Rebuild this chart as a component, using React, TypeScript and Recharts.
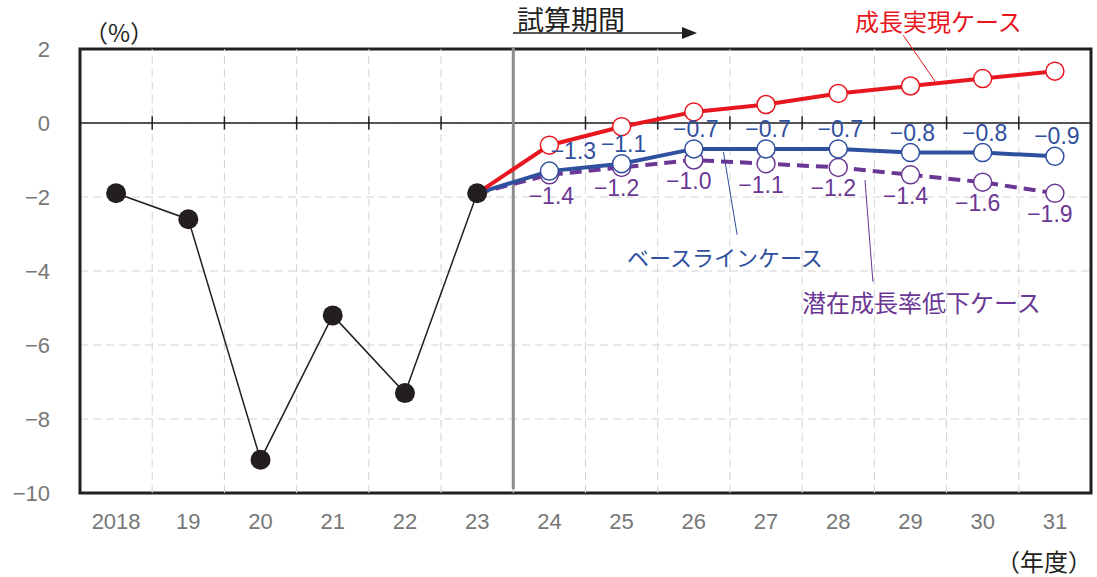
import React from "react";
import {
  ComposedChart,
  Line,
  XAxis,
  YAxis,
  CartesianGrid,
  ReferenceLine,
  ReferenceArea,
} from "recharts";

const years = ["2018", "19", "20", "21", "22", "23", "24", "25", "26", "27", "28", "29", "30", "31"];
const actual = [-1.9, -2.6, -9.1, -5.2, -7.3, -1.9, null, null, null, null, null, null, null, null];
const growthCase = [null, null, null, null, null, -1.9, -0.6, -0.1, 0.3, 0.5, 0.8, 1.0, 1.2, 1.4];
const baselineCase = [null, null, null, null, null, -1.9, -1.3, -1.1, -0.7, -0.7, -0.7, -0.8, -0.8, -0.9];
const lowGrowthCase = [null, null, null, null, null, -1.9, -1.4, -1.2, -1.0, -1.1, -1.2, -1.4, -1.6, -1.9];
const yTicks = [-10, -8, -6, -4, -2, 0, 2];

const data = years.map((year, i) => ({
  i,
  year,
  actual: actual[i],
  growth: growthCase[i],
  base: baselineCase[i],
  low: lowGrowthCase[i],
}));

// category boundaries (between years) for the dashed verticals and zero-line ticks
const boundaries = years.slice(1).map((_, k) => k + 0.5);

const NUM_FONT = "'Liberation Sans', Arial, 'Noto Sans CJK JP', sans-serif";
const JP_FONT = "'Noto Sans CJK JP', 'Noto Sans', sans-serif";

const RED = "#e8171f";
const BLUE = "#2f4f9f";
const PURPLE = "#6b3795";

const fmt = (v: number) => (v < 0 ? "\u2212" + Math.abs(v).toFixed(1) : v.toFixed(1));

const openDot = (color: string) => (p: any) => {
  if (p.value == null || p.index <= 5) return <g key={`e${p.index}`} />;
  return (
    <circle key={`d${p.index}`} cx={p.cx} cy={p.cy} r={9} fill="#fff" stroke={color} strokeWidth={1.5} />
  );
};

const blackDot = (p: any) => {
  if (p.value == null) return <g key={`e${p.index}`} />;
  return <circle key={`b${p.index}`} cx={p.cx} cy={p.cy} r={10} fill="#231f20" />;
};

const label = (color: string, dx: number, dy: number, firstDx: number) => (p: any) => {
  if (p.value == null || p.index <= 5) return null;
  const shift = p.index === 6 ? firstDx : dx;
  return (
    <text
      key={`l${p.index}`}
      x={p.x + shift}
      y={p.y + dy}
      textAnchor="middle"
      dominantBaseline="central"
      fill={color}
      fontSize={23}
      fontFamily={NUM_FONT}
    >
      {fmt(p.value)}
    </text>
  );
};

export default function App() {
  return (
    <div style={{ position: "absolute", left: 0, top: 0, width: 1097, height: 577, background: "#fff" }}>
      <ComposedChart
        width={1097}
        height={577}
        data={data}
        margin={{ top: 49, right: 6, left: 20, bottom: 44 }}
      >
        <CartesianGrid vertical={false} stroke="#d2d2d2" strokeDasharray="8 5" />
        {boundaries.map((b) => (
          <ReferenceLine key={`g${b}`} x={b} stroke="#d2d2d2" strokeDasharray="8 5" />
        ))}
        <XAxis
          dataKey="i"
          type="number"
          domain={[-0.5, 13.5]}
          ticks={years.map((_, i) => i)}
          interval={0}
          tickFormatter={(v: number) => years[v]}
          axisLine={false}
          tickLine={false}
          tickSize={0}
          tickMargin={20}
          height={40}
          tick={{ fill: "#777", fontSize: 22, fontFamily: NUM_FONT }}
        />
        <YAxis
          domain={[-10, 2]}
          ticks={yTicks}
          interval={0}
          tickFormatter={(v: number) => (v < 0 ? "\u2212" + Math.abs(v) : String(v))}
          axisLine={false}
          tickLine={false}
          tickSize={0}
          tickMargin={30}
          width={60}
          tick={{ fill: "#777", fontSize: 22, fontFamily: NUM_FONT }}
        />
        <ReferenceLine y={0} stroke="#231f20" strokeWidth={1.5} />
        {boundaries.map((b) => (
          <ReferenceLine
            key={`t${b}`}
            segment={[
              { x: b, y: -0.18 },
              { x: b, y: 0.18 },
            ]}
            stroke="#231f20"
            strokeWidth={1.5}
          />
        ))}
        <ReferenceLine
          segment={[
            { x: 5.5, y: 2.05 },
            { x: 5.5, y: -9.9 },
          ]}
          stroke="#8c8c8c"
          strokeWidth={3}
          ifOverflow="visible"
        />
        {/* leader lines for the case captions */}
        <ReferenceLine
          segment={[
            { x: 10.9, y: 2.37 },
            { x: 11.34, y: 1.13 },
          ]}
          stroke={RED}
          strokeWidth={1}
          ifOverflow="visible"
        />
        <ReferenceLine
          segment={[
            { x: 8.41, y: -0.78 },
            { x: 8.6, y: -3.02 },
          ]}
          stroke={BLUE}
          strokeWidth={1}
          ifOverflow="visible"
        />
        <ReferenceLine
          segment={[
            { x: 10.37, y: -1.54 },
            { x: 10.48, y: -4.29 },
          ]}
          stroke={PURPLE}
          strokeWidth={1}
          ifOverflow="visible"
        />
        <ReferenceArea
          x1={-0.5}
          x2={13.5}
          y1={-10}
          y2={2}
          fill="none"
          stroke="#231f20"
          strokeWidth={3}
          ifOverflow="visible"
        />
        <Line
          dataKey="low"
          stroke={PURPLE}
          strokeWidth={4}
          strokeDasharray="12 7"
          dot={openDot(PURPLE)}
          label={label(PURPLE, -5, 21, 2)}
          isAnimationActive={false}
        />
        <Line
          dataKey="base"
          stroke={BLUE}
          strokeWidth={4}
          dot={openDot(BLUE)}
          label={label(BLUE, 2, -20, 24)}
          isAnimationActive={false}
        />
        <Line
          dataKey="growth"
          stroke={RED}
          strokeWidth={4}
          dot={openDot(RED)}
          isAnimationActive={false}
        />
        <Line
          dataKey="actual"
          stroke="#231f20"
          strokeWidth={1.5}
          dot={blackDot}
          isAnimationActive={false}
        />
      </ComposedChart>
      <svg
        width={1097}
        height={577}
        style={{ position: "absolute", left: 0, top: 0, pointerEvents: "none" }}
      >
        <text x={84} y={31} fontSize={24} fontFamily={JP_FONT} fill="#231f20" dominantBaseline="central">
          （%）
        </text>
        <text
          x={1092}
          y={560}
          fontSize={24}
          fontFamily={JP_FONT}
          fill="#231f20"
          textAnchor="end"
          dominantBaseline="central"
        >
          （年度）
        </text>
        <text x={517} y={18} fontSize={27} fontFamily={JP_FONT} fill="#231f20" dominantBaseline="central">
          試算期間
        </text>
        <line x1={513} y1={33} x2={684} y2={33} stroke="#231f20" strokeWidth={1.5} />
        <polygon points="697,33 682,27 682,39" fill="#231f20" />
        <text x={855} y={20} fontSize={24} fontFamily={JP_FONT} fill={RED} dominantBaseline="central">
          成長実現ケース
        </text>
        <text x={627} y={256} fontSize={22} fontFamily={JP_FONT} fill={BLUE} dominantBaseline="central">
          ベースラインケース
        </text>
        <text x={802} y={301} fontSize={24} fontFamily={JP_FONT} fill={PURPLE} dominantBaseline="central">
          潜在成長率低下ケース
        </text>
      </svg>
    </div>
  );
}
